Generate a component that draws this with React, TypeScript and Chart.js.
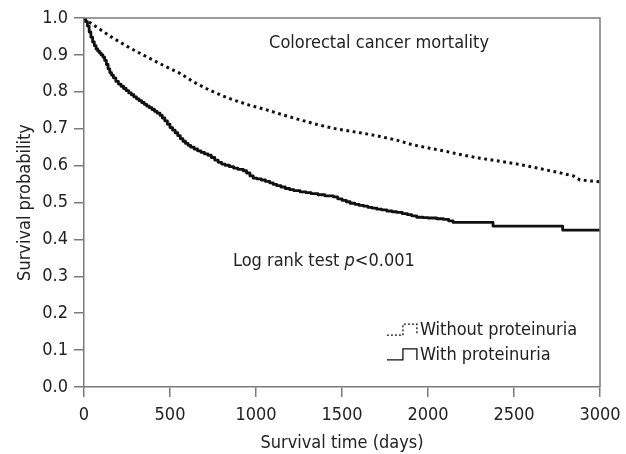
import React, { useEffect, useRef } from "react";
import { Chart, registerables } from "chart.js";

Chart.register(...registerables);

// ---- data ----
const withoutTimes = [0, 20, 100, 171, 270, 364, 460, 558, 640, 723, 800, 868, 960, 1062, 1160, 1256, 1350, 1450, 1550, 1643, 1721, 1818, 1914, 2010, 2109, 2200, 2302, 2400, 2496, 2600, 2690, 2780, 2845, 2884, 2950, 3000];
const withoutSurvival = [1.0, 0.992, 0.967, 0.945, 0.918, 0.895, 0.872, 0.85, 0.826, 0.806, 0.79, 0.778, 0.764, 0.751, 0.737, 0.724, 0.712, 0.701, 0.693, 0.686, 0.679, 0.669, 0.656, 0.647, 0.638, 0.629, 0.62, 0.613, 0.606, 0.597, 0.588, 0.579, 0.572, 0.561, 0.558, 0.556];

const withTimes = [0, 10, 20, 30, 40, 50, 60, 70, 80, 90, 100, 110, 120, 130, 140, 150, 160, 171, 185, 200, 215, 230, 245, 260, 275, 290, 305, 320, 335, 350, 365, 380, 395, 410, 425, 442, 455, 470, 485, 500, 515, 530, 545, 560, 575, 590, 605, 620, 640, 660, 680, 700, 720, 740, 760, 780, 800, 820, 845, 870, 895, 926, 945, 965, 984, 1005, 1030, 1055, 1080, 1100, 1120, 1145, 1170, 1195, 1220, 1256, 1290, 1320, 1360, 1400, 1450, 1475, 1500, 1525, 1547, 1575, 1600, 1625, 1650, 1675, 1702, 1730, 1760, 1790, 1818, 1850, 1880, 1905, 1934, 1970, 2000, 2050, 2089, 2120, 2146, 2378, 2783, 3000];
const withSurvival = [1.0, 0.99, 0.978, 0.962, 0.948, 0.935, 0.925, 0.916, 0.91, 0.905, 0.9, 0.894, 0.885, 0.874, 0.862, 0.852, 0.845, 0.838, 0.828, 0.821, 0.815, 0.809, 0.803, 0.797, 0.792, 0.786, 0.781, 0.776, 0.771, 0.766, 0.761, 0.757, 0.752, 0.747, 0.742, 0.736, 0.729, 0.721, 0.712, 0.703, 0.696, 0.689, 0.681, 0.673, 0.666, 0.66, 0.655, 0.65, 0.645, 0.64, 0.636, 0.632, 0.628, 0.622, 0.615, 0.609, 0.604, 0.601, 0.597, 0.593, 0.59, 0.586, 0.58, 0.572, 0.566, 0.564, 0.561, 0.557, 0.553, 0.549, 0.546, 0.542, 0.538, 0.535, 0.532, 0.529, 0.527, 0.524, 0.521, 0.518, 0.515, 0.51, 0.506, 0.502, 0.498, 0.495, 0.492, 0.49, 0.487, 0.485, 0.482, 0.48, 0.477, 0.475, 0.473, 0.47, 0.467, 0.464, 0.46, 0.459, 0.458, 0.456, 0.454, 0.45, 0.446, 0.436, 0.425, 0.425];

const xTickValues = [0, 500, 1000, 1500, 2000, 2500, 3000];
const yTickValues = [0, 0.1, 0.2, 0.3, 0.4, 0.5, 0.6, 0.7, 0.8, 0.9, 1.0];

const seriesLabels = ["Without proteinuria", "With proteinuria"];
const xTitle = "Survival time (days)";
const yTitle = "Survival probability";
const headline = "Colorectal cancer mortality";
const testPrefix = "Log rank test ";
const testItalic = "p";
const testSuffix = "<0.001";

// annotation anchor positions in data units
const headlinePos = { x: 1076, y: 0.932 };
const testPos = { x: 866, y: 0.341 };
const legendPos = { x: 1953, y1: 0.154, y2: 0.087 };

const FONT = '"Liberation Sans Narrow", "DejaVu Sans Condensed", "Arial Narrow", sans-serif';
const AXIS = "#7a7a7a";
const INK = "#111111";
const TEXT = "#222222";

const annotations = {
  id: "annotations",
  afterDatasetsDraw(chart: any) {
    const { ctx, chartArea, scales } = chart;
    const xs = scales.x;
    const ys = scales.y;
    ctx.save();
    // frame top and right
    ctx.strokeStyle = AXIS;
    ctx.lineWidth = 1.5;
    ctx.beginPath();
    ctx.moveTo(chartArea.left, chartArea.top);
    ctx.lineTo(chartArea.right, chartArea.top);
    ctx.lineTo(chartArea.right, chartArea.bottom);
    ctx.stroke();

    ctx.fillStyle = TEXT;
    ctx.textBaseline = "middle";
    ctx.textAlign = "left";
    ctx.font = `18px ${FONT}`;
    ctx.fillText(headline, xs.getPixelForValue(headlinePos.x), ys.getPixelForValue(headlinePos.y));

    let tx = xs.getPixelForValue(testPos.x);
    const ty = ys.getPixelForValue(testPos.y);
    ctx.fillText(testPrefix, tx, ty);
    tx += ctx.measureText(testPrefix).width;
    ctx.font = `italic 18px ${FONT}`;
    ctx.fillText(testItalic, tx, ty);
    tx += ctx.measureText(testItalic).width;
    ctx.font = `18px ${FONT}`;
    ctx.fillText(testSuffix, tx, ty);

    // legend
    const lx = xs.getPixelForValue(legendPos.x);
    const rows = [ys.getPixelForValue(legendPos.y1), ys.getPixelForValue(legendPos.y2)];
    rows.forEach((ly: number, i: number) => {
      ctx.fillStyle = TEXT;
      ctx.fillText(seriesLabels[i], lx, ly);
      ctx.strokeStyle = INK;
      ctx.lineWidth = 1.3;
      ctx.setLineDash(i === 0 ? [2, 2] : []);
      ctx.beginPath();
      ctx.moveTo(lx - 33, ly + 5);
      ctx.lineTo(lx - 17, ly + 5);
      ctx.lineTo(lx - 17, ly - 6);
      ctx.lineTo(lx - 3, ly - 6);
      ctx.lineTo(lx - 3, ly + 5);
      ctx.stroke();
    });
    ctx.restore();
  },
};

export default function App() {
  const ref = useRef<HTMLCanvasElement | null>(null);

  useEffect(() => {
    if (!ref.current) return;
    const chart = new Chart(ref.current, {
      type: "line",
      data: {
        datasets: [
          {
            label: seriesLabels[0],
            data: withoutTimes.map((t, i) => ({ x: t, y: withoutSurvival[i] })),
            borderColor: INK,
            borderWidth: 3,
            borderDash: [2.8, 3.6],
            borderCapStyle: "butt",
            pointRadius: 0,
            tension: 0,
            fill: false,
          },
          {
            label: seriesLabels[1],
            data: withTimes.map((t, i) => ({ x: t, y: withSurvival[i] })),
            borderColor: INK,
            borderWidth: 2.8,
            stepped: true,
            borderJoinStyle: "round",
            pointRadius: 0,
            fill: false,
          },
        ],
      },
      options: {
        responsive: false,
        animation: false,
        events: [],
        layout: { padding: { top: 18, right: 26, left: 0, bottom: 0 } },
        plugins: { legend: { display: false }, tooltip: { enabled: false } },
        scales: {
          x: {
            type: "linear",
            min: 0,
            max: 3000,
            afterBuildTicks: (s: any) => {
              s.ticks = xTickValues.map((v) => ({ value: v }));
            },
            afterFit: (s: any) => {
              s.height = 67;
              s.paddingLeft = 0;
              s.paddingRight = 0;
            },
            ticks: {
              autoSkip: false,
              maxRotation: 0,
              padding: 8,
              color: TEXT,
              font: { family: FONT, size: 18 },
              callback: (v: any) => String(v),
            },
            grid: { drawOnChartArea: false, drawTicks: true, tickLength: 10, color: AXIS, lineWidth: 1.5 },
            border: { color: AXIS, width: 1.5 },
            title: {
              display: true,
              text: xTitle,
              color: TEXT,
              font: { family: FONT, size: 18 },
              padding: { top: 2, bottom: 0 },
            },
          },
          y: {
            type: "linear",
            min: 0,
            max: 1,
            afterBuildTicks: (s: any) => {
              s.ticks = yTickValues.map((v) => ({ value: v }));
            },
            afterFit: (s: any) => {
              s.width = 84;
              s.paddingTop = 0;
              s.paddingBottom = 0;
            },
            ticks: {
              autoSkip: false,
              padding: 6,
              color: TEXT,
              font: { family: FONT, size: 18 },
              callback: (v: any) => Number(v).toFixed(1),
            },
            grid: { drawOnChartArea: false, drawTicks: true, tickLength: 10, color: AXIS, lineWidth: 1.5 },
            border: { color: AXIS, width: 1.5 },
            title: {
              display: true,
              text: yTitle,
              color: TEXT,
              font: { family: FONT, size: 18 },
              padding: { top: 15, bottom: 0 },
            },
          },
        },
      },
      plugins: [annotations],
    } as any);
    return () => chart.destroy();
  }, []);

  return (
    <div style={{ position: "fixed", left: 0, top: 0, width: 626, height: 454, background: "#fff" }}>
      <canvas ref={ref} width={626} height={454} style={{ display: "block", width: 626, height: 454 }} />
    </div>
  );
}
